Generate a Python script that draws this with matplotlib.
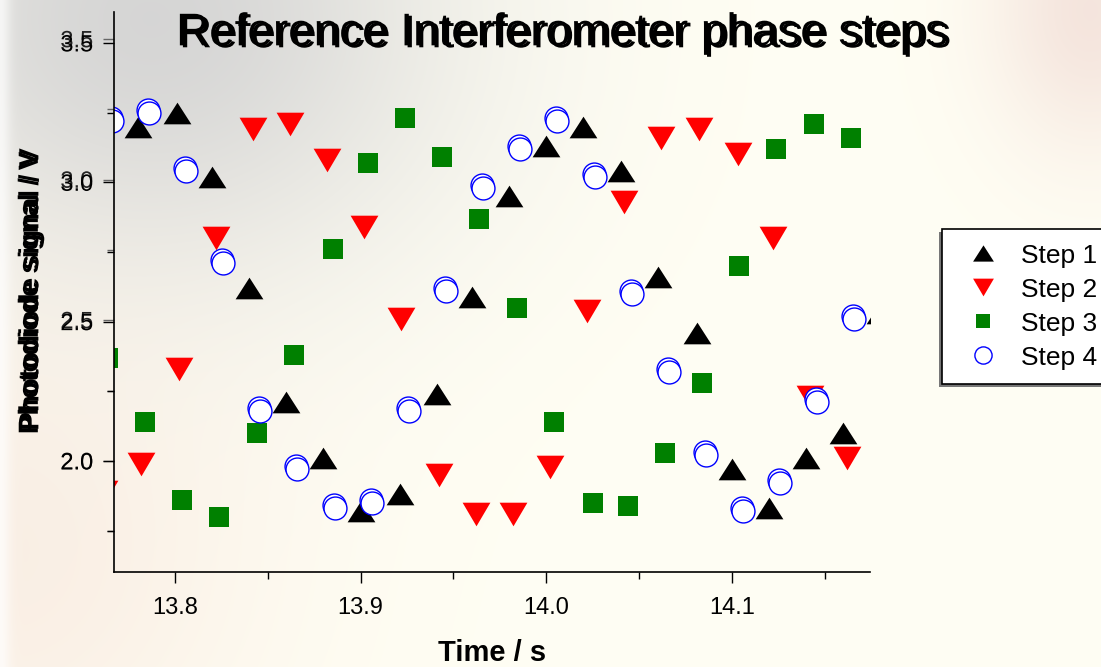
import numpy as np
import matplotlib
matplotlib.use('Agg')
import matplotlib.pyplot as plt
import matplotlib.patheffects as pe
from matplotlib.patches import Rectangle
from matplotlib.transforms import offset_copy

plt.rcParams['font.family'] = ['Liberation Sans', 'DejaVu Sans']

# Step 1 .. Step 4 : time (s) and photodiode signal (V)
t1 = [13.780, 13.801, 13.820, 13.840, 13.860, 13.880, 13.900, 13.921, 13.941, 13.960, 13.980,
      14.000, 14.020, 14.040, 14.060, 14.081, 14.100, 14.120, 14.140, 14.160, 14.180]
s1 = [3.20, 3.25, 3.02, 2.62, 2.21, 2.01, 1.82, 1.88, 2.24, 2.59, 2.95,
      3.13, 3.20, 3.04, 2.66, 2.46, 1.97, 1.83, 2.01, 2.10, 2.53]

t2 = [13.762, 13.782, 13.802, 13.822, 13.842, 13.862, 13.882, 13.902, 13.922, 13.942, 13.962,
      13.982, 14.002, 14.022, 14.042, 14.062, 14.082, 14.103, 14.122, 14.142, 14.162]
s2 = [1.89, 1.99, 2.33, 2.80, 3.19, 3.21, 3.08, 2.84, 2.51, 1.95, 1.81,
      1.81, 1.98, 2.54, 2.93, 3.16, 3.19, 3.10, 2.80, 2.23, 2.01]

t3 = [13.764, 13.784, 13.804, 13.824, 13.844, 13.864, 13.885, 13.904, 13.924, 13.944, 13.964,
      13.984, 14.004, 14.025, 14.044, 14.064, 14.084, 14.104, 14.124, 14.144, 14.164]
s3 = [2.37, 2.14, 1.86, 1.80, 2.10, 2.38, 2.76, 3.07, 3.23, 3.09, 2.87,
      2.55, 2.14, 1.85, 1.84, 2.03, 2.28, 2.70, 3.12, 3.21, 3.16]

t4 = [13.766, 13.786, 13.806, 13.826, 13.846, 13.866, 13.886, 13.906, 13.926, 13.946, 13.966,
      13.986, 14.006, 14.026, 14.046, 14.066, 14.086, 14.106, 14.126, 14.146, 14.166]
s4 = [3.22, 3.25, 3.04, 2.71, 2.18, 1.97, 1.83, 1.85, 2.18, 2.61, 2.98,
      3.12, 3.22, 3.02, 2.60, 2.32, 2.02, 1.82, 1.92, 2.21, 2.51]

xmajor = [13.8, 13.9, 14.0, 14.1]
xminor = [13.85, 13.95, 14.05, 14.15]
ymajor = [2.0, 2.5, 3.0, 3.5]
yminor = [1.75, 2.25, 2.75, 3.25]
xlabels = ['13.8', '13.9', '14.0', '14.1']
ylabels = ['2.0', '2.5', '3.0', '3.5']

fig = plt.figure(figsize=(11.01, 6.67), dpi=100)

# washed-out photo background
h, w = 667, 1101
yy, xx = np.mgrid[0:h, 0:w]
bg = np.ones((h, w, 3)) * np.array([1.0, 0.995, 0.955])
def blend(img, weight, col):
    return img * (1 - weight[..., None]) + weight[..., None] * np.array(col)
g = 0.95 * np.exp(-(((xx - 150) / 300.0) ** 2 + ((yy - 20) / 260.0) ** 2))
bg = blend(bg, g, [0.83, 0.83, 0.83])
p = 0.5 * np.exp(-(((xx - 1090) / 100.0) ** 2 + ((yy - 10) / 140.0) ** 2))
bg = blend(bg, p, [0.92, 0.80, 0.78])
q = 0.5 * np.exp(-(((xx - 0) / 260.0) ** 2 + ((yy - 560) / 260.0) ** 2))
bg = blend(bg, q, [0.96, 0.88, 0.84])
edge = np.exp(-((xx / 10.0) ** 2))
bg = blend(bg, 0.7 * edge, [1.0, 1.0, 1.0])
bax = fig.add_axes([0, 0, 1, 1], zorder=-5)
bax.imshow(bg, aspect='auto')
bax.axis('off')

rect = [0.1035, 0.1424, 0.6866, 0.8396]

# slightly rescaled copy of the y ticks (double exposure look)
gax = fig.add_axes(rect)
gax.patch.set_alpha(0)
for sp in gax.spines.values():
    sp.set_visible(False)
gax.set_xticks([])
gax.set_ylim(1.6054, 3.596)
gax.set_yticks(ymajor)
gax.set_yticks(yminor, minor=True)
gax.tick_params(axis='y', which='both', direction='out', length=8, width=1, labelleft=False,
                color='#666666')
gax.tick_params(axis='y', which='minor', length=5)

ax = fig.add_axes(rect)
ax.patch.set_alpha(0)

tri_up = [(0, 0.78), (-1, -0.78), (1, -0.78)]
tri_dn = [(0, -0.85), (-1, 0.85), (1, 0.85)]

ax.plot(t1, s1, ls='none', marker=tri_up, ms=20, color='black', mew=0, label='Step 1')
ax.plot(t2, s2, ls='none', marker=tri_dn, ms=20, color='red', mew=0, label='Step 2')
ax.plot(t3, s3, ls='none', marker='s', ms=13.7, color='green', mew=0, label='Step 3')
ghost = offset_copy(ax.transData, fig=fig, x=-1, y=3, units='dots')
ax.plot(t4, s4, ls='none', marker='o', ms=16.5, mfc='white', mec='blue', mew=1, transform=ghost)
ax.plot(t4, s4, ls='none', marker='o', ms=16.5, mfc='white', mec='blue', mew=1, label='Step 4')

ax.set_xlim(13.7672, 14.1743)
ax.set_ylim(1.6017, 3.611)
for side in ['top', 'right']:
    ax.spines[side].set_visible(False)
for side in ['left', 'bottom']:
    ax.spines[side].set_linewidth(1.2)
ax.set_xticks(xmajor)
ax.set_xticks(xminor, minor=True)
ax.set_yticks(ymajor)
ax.set_yticks(yminor, minor=True)
ax.tick_params(which='major', direction='out', length=8, width=1, labelsize=17)
ax.tick_params(axis='x', which='major', pad=10)
ax.tick_params(axis='y', which='major', pad=7)
ax.tick_params(which='minor', direction='out', length=5, width=1)
ax.set_xticklabels(xlabels)
ax.set_yticklabels(ylabels)
# doubled y tick labels, the copy drifting upward with value
for lbl, dy in zip(ax.get_yticklabels(), [0.3, 1.4, 2.2, 3.0]):
    lbl.set_path_effects([pe.withSimplePatchShadow(offset=(0, dy), shadow_rgbFace='#222222', alpha=1)])

title = 'Reference Interferometer phase steps'
fig.text(0.5106, 0.983, title, ha='center', va='top', fontsize=33, color='black',
         path_effects=[pe.withSimplePatchShadow(offset=(2.2, -1.4), shadow_rgbFace='black', alpha=1)])

fig.text(0.028, 0.5607, 'Photodiode signal / V', rotation=90, ha='center', va='center',
         fontsize=20, fontweight='bold',
         path_effects=[pe.withSimplePatchShadow(offset=(0.4, 2.5), shadow_rgbFace='black', alpha=1)])

fig.text(0.4469, 0.021, 'Time / s', ha='center', va='center', fontsize=21, fontweight='bold')

leg = fig.legend(loc='upper left', bbox_to_anchor=(942 / 1101, 1 - 229 / 667), borderaxespad=0,
                 fontsize=19, markerscale=0.75, frameon=True, fancybox=False, framealpha=1,
                 edgecolor='black', labelspacing=0.38, handletextpad=0.45, borderpad=0.55,
                 handlelength=2.0)
leg.get_frame().set_linewidth(1.2)
leg.set_zorder(6)

# grey drop shadow on the left/bottom of the legend box
fig.canvas.draw()
bb = leg.get_window_extent()
fig.patches.append(Rectangle((bb.x0 - 3, bb.y0 - 3), bb.width, bb.height, transform=None,
                             facecolor='#777777', edgecolor='none', zorder=5))

fig.savefig('out.png', dpi=100)
